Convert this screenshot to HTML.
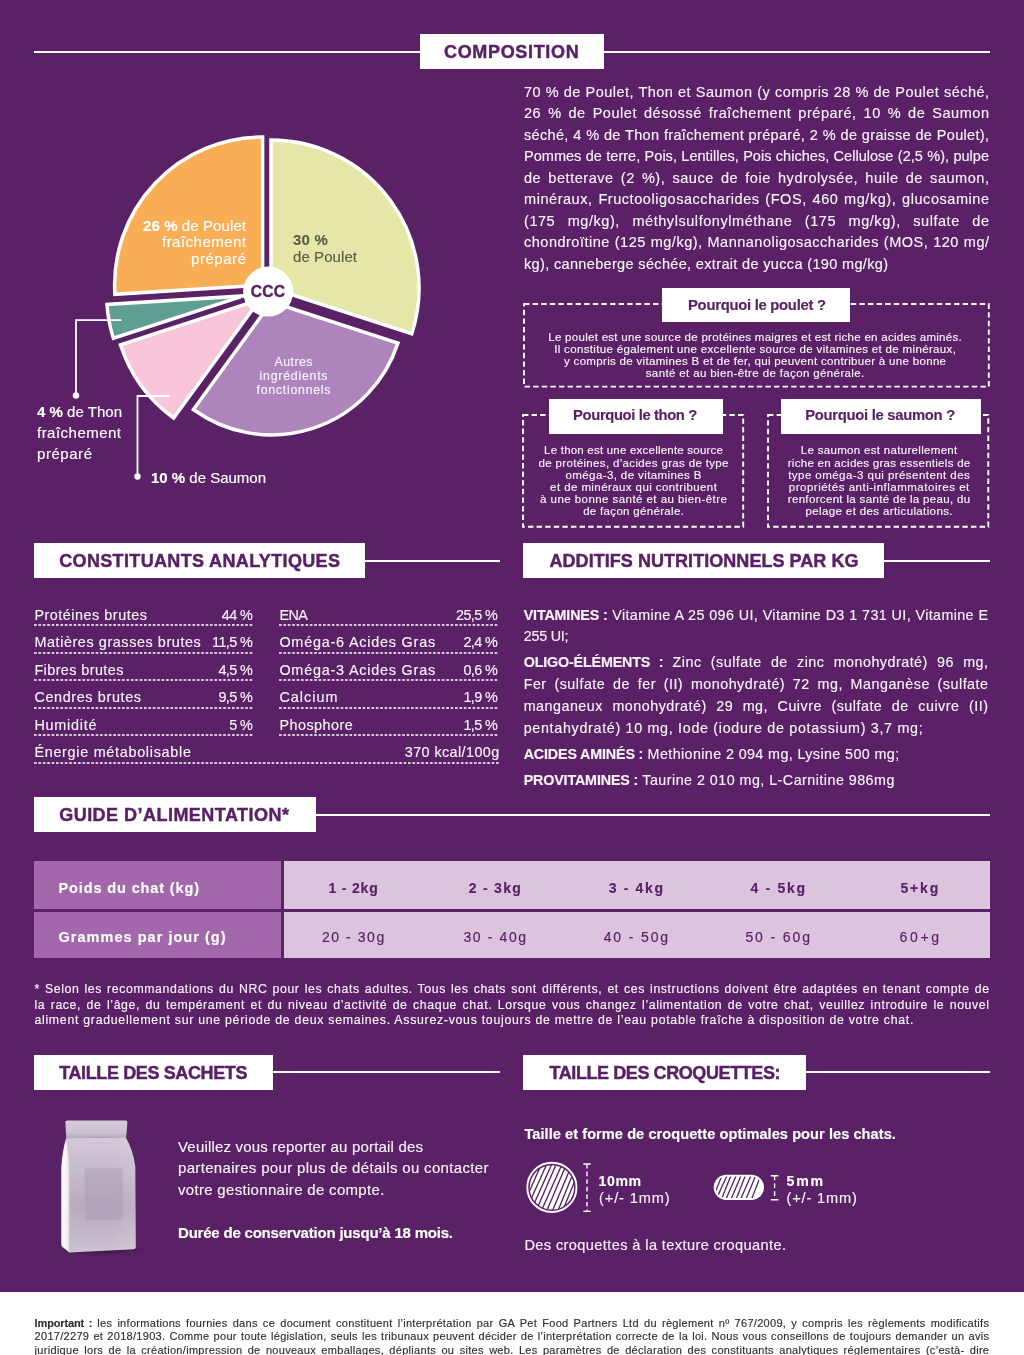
<!DOCTYPE html>
<html lang="fr"><head><meta charset="utf-8"><title>Fiche produit</title>
<style>
html,body{margin:0;padding:0;}
body{width:1024px;height:1355px;position:relative;overflow:hidden;background:#fff;font-family:"Liberation Sans",sans-serif;}
.t{position:absolute;white-space:nowrap;line-height:20px;height:20px;-webkit-text-stroke:0.15px currentColor;}
.j{text-align:justify;text-align-last:justify;}
b{font-weight:700;}
.k{letter-spacing:-0.15px;}
</style></head><body>
<div style="position:absolute;left:0;top:0;width:1024px;height:1291.5px;background:#5a2166"></div>
<div style="position:absolute;left:34px;top:50.5px;width:386px;height:2px;background:#fff;"></div>
<div style="position:absolute;left:604px;top:50.5px;width:385.5px;height:2px;background:#fff;"></div>
<div style="position:absolute;left:420px;top:34px;width:184px;height:35px;background:#fff;"></div>
<div style="position:absolute;left:365px;top:559.5px;width:135px;height:2px;background:#fff;"></div>
<div style="position:absolute;left:34px;top:543px;width:331px;height:35px;background:#fff;"></div>
<div style="position:absolute;left:883.5px;top:559.5px;width:106.0px;height:2px;background:#fff;"></div>
<div style="position:absolute;left:523px;top:543px;width:360.5px;height:35px;background:#fff;"></div>
<div style="position:absolute;left:316px;top:813.6500000000001px;width:673.5px;height:2px;background:#fff;"></div>
<div style="position:absolute;left:34px;top:797.2px;width:282px;height:34.89999999999998px;background:#fff;"></div>
<div style="position:absolute;left:272.5px;top:1071.4px;width:227.5px;height:2px;background:#fff;"></div>
<div style="position:absolute;left:34px;top:1054.9px;width:238.5px;height:35.0px;background:#fff;"></div>
<div style="position:absolute;left:805.5px;top:1071.4px;width:184.0px;height:2px;background:#fff;"></div>
<div style="position:absolute;left:523px;top:1054.9px;width:282.5px;height:35.0px;background:#fff;"></div>
<svg style="position:absolute;left:0;top:100px" width="512" height="420" viewBox="0 100 512 420"><path d="M271.0,288.0 L271.0,140.0 A148,148 0 0 1 411.8,333.7 Z" fill="#e4e7a8" stroke="#fff" stroke-width="3.5" stroke-linejoin="miter" stroke-miterlimit="10"/><path d="M271.5,302.0 L397.9,343.1 A132.9,132.9 0 0 1 193.4,409.5 Z" fill="#ae84bd" stroke="#fff" stroke-width="3.5" stroke-linejoin="miter" stroke-miterlimit="10"/><path d="M259.8,299.5 L173.6,418.1 A146.6,146.6 0 0 1 120.4,344.8 Z" fill="#f8c5da" stroke="#fff" stroke-width="3.5" stroke-linejoin="miter" stroke-miterlimit="10"/><path d="M243.5,295.9 L113.4,338.2 A136.8,136.8 0 0 1 107.0,304.5 Z" fill="#5f9e92" stroke="#fff" stroke-width="3.5" stroke-linejoin="miter" stroke-miterlimit="10"/><path d="M262.6,285.0 L114.9,294.3 A148,148 0 0 1 262.6,137.0 Z" fill="#f9ae56" stroke="#fff" stroke-width="3.5" stroke-linejoin="miter" stroke-miterlimit="10"/><circle cx="268.1" cy="291.6" r="25" fill="#fff"/><path d="M121.5,320.2 H76 V395" fill="none" stroke="#fff" stroke-width="1.8"/><circle cx="76" cy="395.5" r="3.2" fill="#fff"/><path d="M170,396 H137.5 V476" fill="none" stroke="#fff" stroke-width="1.8"/><circle cx="137.5" cy="476.5" r="3.2" fill="#fff"/></svg>
<svg style="position:absolute;left:522px;top:302.2px" width="468.79999999999995" height="86.60000000000002"><rect x="2" y="2" width="464.79999999999995" height="82.60000000000002" fill="none" stroke="#fff" stroke-width="1.9" stroke-dasharray="5.4 3.2"/></svg>
<div style="position:absolute;left:662px;top:287.5px;width:188px;height:34.5px;background:#fff;"></div>
<svg style="position:absolute;left:521.4px;top:412.6px" width="224.20000000000005" height="115.79999999999995"><rect x="2" y="2" width="220.20000000000005" height="111.79999999999995" fill="none" stroke="#fff" stroke-width="1.9" stroke-dasharray="5.4 3.2"/></svg>
<div style="position:absolute;left:548.5px;top:398.7px;width:174.4px;height:35.1px;background:#fff;"></div>
<svg style="position:absolute;left:766.3px;top:412.6px" width="224.30000000000007" height="115.79999999999995"><rect x="2" y="2" width="220.30000000000007" height="111.79999999999995" fill="none" stroke="#fff" stroke-width="1.9" stroke-dasharray="5.4 3.2"/></svg>
<div style="position:absolute;left:780.6px;top:398.7px;width:200.9px;height:35.1px;background:#fff;"></div>
<svg style="position:absolute;left:34px;top:624.4px" width="219.5" height="2"><line x1="0" y1="1" x2="219.5" y2="1" stroke="#fff" stroke-width="1.6" stroke-dasharray="2.7 1.7"/></svg>
<svg style="position:absolute;left:279px;top:624.4px" width="220.3" height="2"><line x1="0" y1="1" x2="220.3" y2="1" stroke="#fff" stroke-width="1.6" stroke-dasharray="2.7 1.7"/></svg>
<svg style="position:absolute;left:34px;top:651.5px" width="219.5" height="2"><line x1="0" y1="1" x2="219.5" y2="1" stroke="#fff" stroke-width="1.6" stroke-dasharray="2.7 1.7"/></svg>
<svg style="position:absolute;left:279px;top:651.5px" width="220.3" height="2"><line x1="0" y1="1" x2="220.3" y2="1" stroke="#fff" stroke-width="1.6" stroke-dasharray="2.7 1.7"/></svg>
<svg style="position:absolute;left:34px;top:679.0px" width="219.5" height="2"><line x1="0" y1="1" x2="219.5" y2="1" stroke="#fff" stroke-width="1.6" stroke-dasharray="2.7 1.7"/></svg>
<svg style="position:absolute;left:279px;top:679.0px" width="220.3" height="2"><line x1="0" y1="1" x2="220.3" y2="1" stroke="#fff" stroke-width="1.6" stroke-dasharray="2.7 1.7"/></svg>
<svg style="position:absolute;left:34px;top:706.5px" width="219.5" height="2"><line x1="0" y1="1" x2="219.5" y2="1" stroke="#fff" stroke-width="1.6" stroke-dasharray="2.7 1.7"/></svg>
<svg style="position:absolute;left:279px;top:706.5px" width="220.3" height="2"><line x1="0" y1="1" x2="220.3" y2="1" stroke="#fff" stroke-width="1.6" stroke-dasharray="2.7 1.7"/></svg>
<svg style="position:absolute;left:34px;top:733.9px" width="219.5" height="2"><line x1="0" y1="1" x2="219.5" y2="1" stroke="#fff" stroke-width="1.6" stroke-dasharray="2.7 1.7"/></svg>
<svg style="position:absolute;left:279px;top:733.9px" width="220.3" height="2"><line x1="0" y1="1" x2="220.3" y2="1" stroke="#fff" stroke-width="1.6" stroke-dasharray="2.7 1.7"/></svg>
<svg style="position:absolute;left:34px;top:761.7px" width="465.3" height="2"><line x1="0" y1="1" x2="465.3" y2="1" stroke="#fff" stroke-width="1.6" stroke-dasharray="2.7 1.7"/></svg>
<div style="position:absolute;left:34px;top:861.4px;width:246.9px;height:47.3px;background:#a268ab;"></div>
<div style="position:absolute;left:34px;top:911.9px;width:246.9px;height:46.5px;background:#a268ab;"></div>
<div style="position:absolute;left:284px;top:861.4px;width:705.6px;height:47.3px;background:#dcc3de;"></div>
<div style="position:absolute;left:284px;top:911.9px;width:705.6px;height:46.5px;background:#dcc3de;"></div>
<svg style="position:absolute;left:50px;top:1110px" width="100" height="155" viewBox="50 1110 100 155">
<defs>
<linearGradient id="bgF" x1="0" x2="0" y1="0" y2="1"><stop offset="0" stop-color="#d3c9d7"/><stop offset="0.25" stop-color="#c8bdcd"/><stop offset="0.6" stop-color="#b8abbe"/><stop offset="0.85" stop-color="#c3b8c8"/><stop offset="1" stop-color="#cdc3d2"/></linearGradient>
<linearGradient id="bgS" x1="0" x2="1" y1="0" y2="0"><stop offset="0" stop-color="#ffffff"/><stop offset="0.7" stop-color="#f3eff5"/><stop offset="1" stop-color="#dcd3e0"/></linearGradient>
<linearGradient id="bgT" x1="0" x2="0" y1="0" y2="1"><stop offset="0" stop-color="#d6cdda"/><stop offset="0.7" stop-color="#cbc0cf"/><stop offset="1" stop-color="#b3a6b9"/></linearGradient>
<linearGradient id="bgR" x1="0" x2="1" y1="0" y2="0"><stop offset="0" stop-color="#fff" stop-opacity="0"/><stop offset="1" stop-color="#fff" stop-opacity="0.10"/></linearGradient>
<radialGradient id="bgSh" cx="0.5" cy="0.5" r="0.5"><stop offset="0" stop-color="#33103c" stop-opacity="0.75"/><stop offset="1" stop-color="#33103c" stop-opacity="0"/></radialGradient>
</defs>
<ellipse cx="101" cy="1250" rx="46" ry="6.5" fill="url(#bgSh)"/>
<path d="M66.2,1138 L125.6,1137 Q133,1150 135.3,1166 L135.8,1247 Q135.8,1249 133.5,1249.2 L70,1252.6 Q68.5,1252.6 68,1251 L68,1166 Z" fill="url(#bgF)"/>
<path d="M112,1139 L125.6,1137 Q133,1150 135.3,1166 L135.8,1247 Q135.8,1249 133.5,1249.2 L112,1250.3 Z" fill="url(#bgR)"/>
<path d="M66.2,1138 L69.5,1166 L69.5,1252.4 L62.5,1247 Q61.3,1246 61.3,1244 L61.3,1167 Q62.5,1150 66.2,1138 Z" fill="url(#bgS)"/>
<path d="M65.4,1122 Q65.4,1120.4 67,1120.4 L125.8,1120.4 Q127.4,1120.4 127.4,1122 L126.2,1137.4 L66.2,1138.2 Z" fill="url(#bgT)"/>
<rect x="84.9" y="1168.2" width="37.8" height="52" fill="#a596ad" opacity="0.38"/>
</svg>
<svg style="position:absolute;left:520px;top:1155px" width="270" height="65" viewBox="520 1155 270 65">
<defs><clipPath id="cc1"><circle cx="551.9" cy="1187.4" r="22.6"/></clipPath><clipPath id="cc2"><rect x="715.6" y="1176.6" width="46.5" height="21.5" rx="10.75"/></clipPath></defs>
<circle cx="551.9" cy="1187.4" r="24.6" fill="none" stroke="#fff" stroke-width="1.9"/>
<circle cx="551.9" cy="1187.4" r="22.2" fill="#fff"/><path d="M504.7,1214.4 L528.1,1160.4 M509.9,1214.4 L532.6,1160.4 M514.6,1214.4 L537.5,1160.4 M519.1,1214.4 L543.1,1160.4 M524.2,1214.4 L548.4,1160.4 M529.4,1214.4 L553.4,1160.4 M534.6,1214.4 L557.8,1160.4 M539.8,1214.4 L563.7,1160.4 M545.3,1214.4 L568.0,1160.4 M550.9,1214.4 L573.7,1160.4 M556.5,1214.4 L578.3,1160.4 M561.1,1214.4 L583.2,1160.4 M565.2,1214.4 L589.1,1160.4 M570.2,1214.4 L593.7,1160.4 " stroke="#5a2166" stroke-width="1.35" fill="none" clip-path="url(#cc1)"/>
<rect x="713.7" y="1174.7" width="50.3" height="25.3" rx="12.65" fill="#fff"/>
<path d="M701.4,1200.9 L713.4,1173.9 M706.9,1200.9 L717.8,1173.9 M711.6,1200.9 L722.7,1173.9 M715.5,1200.9 L727.7,1173.9 M720.8,1200.9 L731.6,1173.9 M725.2,1200.9 L736.9,1173.9 M730.4,1200.9 L741.7,1173.9 M735.5,1200.9 L746.0,1173.9 M739.9,1200.9 L751.7,1173.9 M745.2,1200.9 L756.4,1173.9 M750.8,1200.9 L761.4,1173.9 " stroke="#5a2166" stroke-width="1.3" fill="none" clip-path="url(#cc2)"/>
<g stroke="#fff" stroke-width="1.4" fill="none">
<path d="M583.3,1164 H590.7 M583.3,1211.4 H590.7"/><path d="M587,1164 V1211.4" stroke-dasharray="4.6 3"/>
<path d="M770.8,1175.7 H778.4 M770.8,1199.7 H778.4"/><path d="M774.6,1175.7 V1199.7" stroke-dasharray="4.6 3.2"/>
</g></svg>
<div class="t" style="top:42.26px;font-size:18px;color:#5a2166;font-weight:700;letter-spacing:0.669px;left:444px;-webkit-text-stroke:0.45px #5a2166;">COMPOSITION</div>
<div class="t" style="top:550.96px;font-size:18px;color:#5a2166;font-weight:700;letter-spacing:0.352px;left:59.2px;-webkit-text-stroke:0.45px #5a2166;">CONSTITUANTS ANALYTIQUES</div>
<div class="t" style="top:550.96px;font-size:18px;color:#5a2166;font-weight:700;letter-spacing:0.047px;left:549.5px;-webkit-text-stroke:0.45px #5a2166;">ADDITIFS NUTRITIONNELS PAR KG</div>
<div class="t" style="top:805.06px;font-size:18px;color:#5a2166;font-weight:700;letter-spacing:0.474px;left:59.2px;-webkit-text-stroke:0.45px #5a2166;">GUIDE D’ALIMENTATION*</div>
<div class="t" style="top:1062.66px;font-size:18px;color:#5a2166;font-weight:700;letter-spacing:-0.375px;left:59.2px;-webkit-text-stroke:0.45px #5a2166;">TAILLE DES SACHETS</div>
<div class="t" style="top:1062.66px;font-size:18px;color:#5a2166;font-weight:700;letter-spacing:-0.414px;left:549.5px;-webkit-text-stroke:0.45px #5a2166;">TAILLE DES CROQUETTES:</div>
<div class="t j" style="top:81.58px;font-size:14.5px;color:#f8f4f9;letter-spacing:0.470px;left:524px;width:465.47px;">70 % de Poulet, Thon et Saumon (y compris 28 % de Poulet séché,</div>
<div class="t j" style="top:103.08px;font-size:14.5px;color:#f8f4f9;letter-spacing:0.550px;left:524px;width:465.55px;">26 % de Poulet désossé fraîchement préparé, 10 % de Saumon</div>
<div class="t j" style="top:124.58px;font-size:14.5px;color:#f8f4f9;letter-spacing:0.322px;left:524px;width:465.32px;">séché, 4 % de Thon fraîchement préparé, 2 % de graisse de Poulet),</div>
<div class="t j" style="top:146.08px;font-size:14.5px;color:#f8f4f9;letter-spacing:0.028px;left:524px;width:465.03px;">Pommes de terre, Pois, Lentilles, Pois chiches, Cellulose (2,5 %), pulpe</div>
<div class="t j" style="top:167.58px;font-size:14.5px;color:#f8f4f9;letter-spacing:0.550px;left:524px;width:465.55px;">de betterave (2 %), sauce de foie hydrolysée, huile de saumon,</div>
<div class="t j" style="top:189.08px;font-size:14.5px;color:#f8f4f9;letter-spacing:0.550px;left:524px;width:465.55px;">minéraux, Fructooligosaccharides (FOS, 460 mg/kg), glucosamine</div>
<div class="t j" style="top:210.58px;font-size:14.5px;color:#f8f4f9;letter-spacing:0.550px;left:524px;width:465.55px;">(175 mg/kg), méthylsulfonylméthane (175 mg/kg), sulfate de</div>
<div class="t j" style="top:232.08px;font-size:14.5px;color:#f8f4f9;letter-spacing:0.501px;left:524px;width:465.50px;">chondroïtine (125 mg/kg), Mannanoligosaccharides (MOS, 120 mg/</div>
<div class="t" style="top:253.58px;font-size:14.5px;color:#f8f4f9;letter-spacing:0.342px;left:524px;">kg), canneberge séchée, extrait de yucca (190 mg/kg)</div>
<div class="t" style="top:281.89px;font-size:15.6px;color:#5a2166;font-weight:700;letter-spacing:0.207px;left:-32.00px;width:600px;text-align:center;-webkit-text-stroke:0.4px #5a2166;">CCC</div>
<div class="t" style="top:215.80px;font-size:15px;color:#fff;letter-spacing:0.095px;right:777.90px;"><b>26 %</b> de Poulet</div>
<div class="t" style="top:232.30px;font-size:15px;color:#fff;letter-spacing:0.479px;right:777.52px;">fraîchement</div>
<div class="t" style="top:248.80px;font-size:15px;color:#fff;letter-spacing:0.548px;right:777.45px;">préparé</div>
<div class="t" style="top:229.80px;font-size:15px;color:#5b5d45;letter-spacing:0.208px;left:293px;"><b>30 %</b></div>
<div class="t" style="top:246.80px;font-size:15px;color:#5b5d45;letter-spacing:0.076px;left:293px;">de Poulet</div>
<div class="t" style="top:352.24px;font-size:12.3px;color:#faf5fb;letter-spacing:0.490px;left:-6.26px;width:600px;text-align:center;">Autres</div>
<div class="t" style="top:366.24px;font-size:12.3px;color:#faf5fb;letter-spacing:0.783px;left:-6.11px;width:600px;text-align:center;">ingrédients</div>
<div class="t" style="top:380.24px;font-size:12.3px;color:#faf5fb;letter-spacing:0.760px;left:-6.12px;width:600px;text-align:center;">fonctionnels</div>
<div class="t" style="top:402.30px;font-size:15px;color:#fff;letter-spacing:0.020px;left:37px;"><b>4 %</b> de Thon</div>
<div class="t" style="top:423.30px;font-size:15px;color:#fff;letter-spacing:0.479px;left:37px;">fraîchement</div>
<div class="t" style="top:444.30px;font-size:15px;color:#fff;letter-spacing:0.548px;left:37px;">préparé</div>
<div class="t" style="top:467.80px;font-size:15px;color:#fff;letter-spacing:-0.007px;left:151px;"><b>10 %</b> de Saumon</div>
<div class="t" style="top:294.87px;font-size:14.8px;color:#5a2166;font-weight:700;letter-spacing:-0.265px;left:688px;">Pourquoi le poulet ?</div>
<div class="t" style="top:326.62px;font-size:11.5px;color:#f8f4f9;letter-spacing:0.288px;left:455.14px;width:600px;text-align:center;">Le poulet est une source de protéines maigres et est riche en acides aminés.</div>
<div class="t" style="top:338.62px;font-size:11.5px;color:#f8f4f9;letter-spacing:0.341px;left:455.17px;width:600px;text-align:center;">Il constitue également une excellente source de vitamines et de minéraux,</div>
<div class="t" style="top:350.62px;font-size:11.5px;color:#f8f4f9;letter-spacing:0.320px;left:455.16px;width:600px;text-align:center;">y compris de vitamines B et de fer, qui peuvent contribuer à une bonne</div>
<div class="t" style="top:362.62px;font-size:11.5px;color:#f8f4f9;letter-spacing:0.373px;left:455.19px;width:600px;text-align:center;">santé et au bien-être de façon générale.</div>
<div class="t" style="top:405.37px;font-size:14.8px;color:#5a2166;font-weight:700;letter-spacing:-0.383px;left:573.1px;">Pourquoi le thon ?</div>
<div class="t" style="top:440.42px;font-size:11.5px;color:#f8f4f9;letter-spacing:0.213px;left:333.61px;width:600px;text-align:center;">Le thon est une excellente source</div>
<div class="t" style="top:452.54px;font-size:11.5px;color:#f8f4f9;letter-spacing:0.339px;left:333.67px;width:600px;text-align:center;">de protéines, d’acides gras de type</div>
<div class="t" style="top:464.66px;font-size:11.5px;color:#f8f4f9;letter-spacing:0.395px;left:333.70px;width:600px;text-align:center;">oméga-3, de vitamines B</div>
<div class="t" style="top:476.78px;font-size:11.5px;color:#f8f4f9;letter-spacing:0.416px;left:333.71px;width:600px;text-align:center;">et de minéraux qui contribuent</div>
<div class="t" style="top:488.90px;font-size:11.5px;color:#f8f4f9;letter-spacing:0.442px;left:333.72px;width:600px;text-align:center;">à une bonne santé et au bien-être</div>
<div class="t" style="top:501.02px;font-size:11.5px;color:#f8f4f9;letter-spacing:0.319px;left:333.66px;width:600px;text-align:center;">de façon générale.</div>
<div class="t" style="top:405.37px;font-size:14.8px;color:#5a2166;font-weight:700;letter-spacing:-0.283px;left:805.2px;">Pourquoi le saumon ?</div>
<div class="t" style="top:440.42px;font-size:11.5px;color:#f8f4f9;letter-spacing:0.318px;left:579.16px;width:600px;text-align:center;">Le saumon est naturellement</div>
<div class="t" style="top:452.54px;font-size:11.5px;color:#f8f4f9;letter-spacing:0.280px;left:579.14px;width:600px;text-align:center;">riche en acides gras essentiels de</div>
<div class="t" style="top:464.66px;font-size:11.5px;color:#f8f4f9;letter-spacing:0.449px;left:579.22px;width:600px;text-align:center;">type oméga-3 qui présentent des</div>
<div class="t" style="top:476.78px;font-size:11.5px;color:#f8f4f9;letter-spacing:0.507px;left:579.25px;width:600px;text-align:center;">propriétés anti-inflammatoires et</div>
<div class="t" style="top:488.90px;font-size:11.5px;color:#f8f4f9;letter-spacing:0.338px;left:579.17px;width:600px;text-align:center;">renforcent la santé de la peau, du</div>
<div class="t" style="top:501.02px;font-size:11.5px;color:#f8f4f9;letter-spacing:0.377px;left:579.19px;width:600px;text-align:center;">pelage et des articulations.</div>
<div class="t" style="top:605.11px;font-size:14.4px;color:#f8f4f9;letter-spacing:0.514px;left:34.4px;">Protéines brutes</div>
<div class="t" style="top:605.11px;font-size:14.4px;color:#f8f4f9;letter-spacing:-0.600px;right:771.80px;">44 %</div>
<div class="t" style="top:605.11px;font-size:14.4px;color:#f8f4f9;letter-spacing:-0.600px;left:279.4px;">ENA</div>
<div class="t" style="top:605.11px;font-size:14.4px;color:#f8f4f9;letter-spacing:-0.600px;right:526.80px;">25,5 %</div>
<div class="t" style="top:632.21px;font-size:14.4px;color:#f8f4f9;letter-spacing:0.583px;left:34.4px;">Matières grasses brutes</div>
<div class="t" style="top:632.21px;font-size:14.4px;color:#f8f4f9;letter-spacing:-0.600px;right:771.80px;">11,5 %</div>
<div class="t" style="top:632.21px;font-size:14.4px;color:#f8f4f9;letter-spacing:0.790px;left:279.4px;">Oméga-6 Acides Gras</div>
<div class="t" style="top:632.21px;font-size:14.4px;color:#f8f4f9;letter-spacing:-0.600px;right:526.80px;">2,4 %</div>
<div class="t" style="top:659.71px;font-size:14.4px;color:#f8f4f9;letter-spacing:0.417px;left:34.4px;">Fibres brutes</div>
<div class="t" style="top:659.71px;font-size:14.4px;color:#f8f4f9;letter-spacing:-0.600px;right:771.80px;">4,5 %</div>
<div class="t" style="top:659.71px;font-size:14.4px;color:#f8f4f9;letter-spacing:0.790px;left:279.4px;">Oméga-3 Acides Gras</div>
<div class="t" style="top:659.71px;font-size:14.4px;color:#f8f4f9;letter-spacing:-0.600px;right:526.80px;">0,6 %</div>
<div class="t" style="top:687.21px;font-size:14.4px;color:#f8f4f9;letter-spacing:0.631px;left:34.4px;">Cendres brutes</div>
<div class="t" style="top:687.21px;font-size:14.4px;color:#f8f4f9;letter-spacing:-0.600px;right:771.80px;">9,5 %</div>
<div class="t" style="top:687.21px;font-size:14.4px;color:#f8f4f9;letter-spacing:1.020px;left:279.4px;">Calcium</div>
<div class="t" style="top:687.21px;font-size:14.4px;color:#f8f4f9;letter-spacing:-0.600px;right:526.80px;">1,9 %</div>
<div class="t" style="top:714.61px;font-size:14.4px;color:#f8f4f9;letter-spacing:0.759px;left:34.4px;">Humidité</div>
<div class="t" style="top:714.61px;font-size:14.4px;color:#f8f4f9;letter-spacing:-0.600px;right:771.80px;">5 %</div>
<div class="t" style="top:714.61px;font-size:14.4px;color:#f8f4f9;letter-spacing:0.460px;left:279.4px;">Phosphore</div>
<div class="t" style="top:714.61px;font-size:14.4px;color:#f8f4f9;letter-spacing:-0.600px;right:526.80px;">1,5 %</div>
<div class="t" style="top:742.21px;font-size:14.4px;color:#f8f4f9;letter-spacing:0.705px;left:34.4px;">Énergie métabolisable</div>
<div class="t" style="top:742.21px;font-size:14.4px;color:#f8f4f9;letter-spacing:0.398px;right:524.40px;">370 kcal/100g</div>
<div class="t j" style="top:604.65px;font-size:14.3px;color:#f8f4f9;letter-spacing:0.382px;left:523.7px;width:464.68px;"><b class="k">VITAMINES :</b> Vitamine A 25 096 UI, Vitamine D3 1 731 UI, Vitamine E</div>
<div class="t" style="top:626.45px;font-size:14.3px;color:#f8f4f9;letter-spacing:-0.217px;left:523.7px;">255 UI;</div>
<div class="t j" style="top:652.35px;font-size:14.3px;color:#f8f4f9;letter-spacing:0.500px;left:523.7px;width:464.80px;"><b class="k">OLIGO-ÉLÉMENTS :</b> Zinc (sulfate de zinc monohydraté) 96 mg,</div>
<div class="t j" style="top:674.35px;font-size:14.3px;color:#f8f4f9;letter-spacing:0.500px;left:523.7px;width:464.80px;">Fer (sulfate de fer (II) monohydraté) 72 mg, Manganèse (sulfate</div>
<div class="t j" style="top:696.35px;font-size:14.3px;color:#f8f4f9;letter-spacing:0.500px;left:523.7px;width:464.80px;">manganeux monohydraté) 29 mg, Cuivre (sulfate de cuivre (II)</div>
<div class="t" style="top:717.65px;font-size:14.3px;color:#f8f4f9;letter-spacing:0.691px;left:523.7px;">pentahydraté) 10 mg, Iode (iodure de potassium) 3,7 mg;</div>
<div class="t" style="top:743.65px;font-size:14.3px;color:#f8f4f9;letter-spacing:0.400px;left:523.7px;"><b class="k">ACIDES AMINÉS :</b> Methionine 2 094 mg, Lysine 500 mg;</div>
<div class="t" style="top:769.85px;font-size:14.3px;color:#f8f4f9;letter-spacing:0.472px;left:523.7px;"><b class="k">PROVITAMINES :</b> Taurine 2 010 mg, L-Carnitine 986mg</div>
<div class="t" style="top:878.18px;font-size:14.5px;color:#fff;font-weight:700;letter-spacing:0.877px;left:58.5px;">Poids du chat (kg)</div>
<div class="t" style="top:927.18px;font-size:14.5px;color:#fff;font-weight:700;letter-spacing:1.033px;left:58.5px;">Grammes par jour (g)</div>
<div class="t" style="top:877.75px;font-size:14px;color:#5a2166;font-weight:700;letter-spacing:0.806px;left:53.50px;width:600px;text-align:center;">1 - 2kg</div>
<div class="t" style="top:877.75px;font-size:14px;color:#5a2166;font-weight:700;letter-spacing:1.274px;left:195.44px;width:600px;text-align:center;">2 - 3kg</div>
<div class="t" style="top:877.75px;font-size:14px;color:#5a2166;font-weight:700;letter-spacing:1.688px;left:336.74px;width:600px;text-align:center;">3 - 4kg</div>
<div class="t" style="top:877.75px;font-size:14px;color:#5a2166;font-weight:700;letter-spacing:1.707px;left:478.55px;width:600px;text-align:center;">4 - 5kg</div>
<div class="t" style="top:877.75px;font-size:14px;color:#5a2166;font-weight:700;letter-spacing:1.832px;left:620.22px;width:600px;text-align:center;">5+kg</div>
<div class="t" style="top:926.75px;font-size:14px;color:#5a2166;letter-spacing:1.545px;left:53.87px;width:600px;text-align:center;">20 - 30g</div>
<div class="t" style="top:926.75px;font-size:14px;color:#5a2166;letter-spacing:1.603px;left:195.60px;width:600px;text-align:center;">30 - 40g</div>
<div class="t" style="top:926.75px;font-size:14px;color:#5a2166;letter-spacing:1.875px;left:336.84px;width:600px;text-align:center;">40 - 50g</div>
<div class="t" style="top:926.75px;font-size:14px;color:#5a2166;letter-spacing:1.875px;left:478.64px;width:600px;text-align:center;">50 - 60g</div>
<div class="t" style="top:926.75px;font-size:14px;color:#5a2166;letter-spacing:2.654px;left:620.63px;width:600px;text-align:center;">60+g</div>
<div class="t j" style="top:979.14px;font-size:12.3px;color:#f8f4f9;letter-spacing:0.600px;left:34.4px;width:955.20px;">* Selon les recommandations du NRC pour les chats adultes. Tous les chats sont différents, et ces instructions doivent être adaptées en tenant compte de</div>
<div class="t j" style="top:994.84px;font-size:12.3px;color:#f8f4f9;letter-spacing:0.600px;left:34.4px;width:955.20px;">la race, de l’âge, du tempérament et du niveau d’activité de chaque chat. Lorsque vous changez l’alimentation de votre chat, veuillez introduire le nouvel</div>
<div class="t" style="top:1010.44px;font-size:12.3px;color:#f8f4f9;letter-spacing:0.727px;left:34.4px;">aliment graduellement sur une période de deux semaines. Assurez-vous toujours de mettre de l’eau potable fraîche à disposition de votre chat.</div>
<div class="t" style="top:1136.50px;font-size:15px;color:#f8f4f9;letter-spacing:0.182px;left:178px;">Veuillez vous reporter au portail des</div>
<div class="t" style="top:1158.10px;font-size:15px;color:#f8f4f9;letter-spacing:0.327px;left:178px;">partenaires pour plus de détails ou contacter</div>
<div class="t" style="top:1179.70px;font-size:15px;color:#f8f4f9;letter-spacing:0.310px;left:178px;">votre gestionnaire de compte.</div>
<div class="t" style="top:1222.60px;font-size:15px;color:#fff;font-weight:700;letter-spacing:-0.205px;left:178px;">Durée de conservation jusqu’à 18 mois.</div>
<div class="t" style="top:1123.94px;font-size:14.6px;color:#fff;font-weight:700;letter-spacing:0.052px;left:524.4px;">Taille et forme de croquette optimales pour les chats.</div>
<div class="t" style="top:1171.11px;font-size:14.1px;color:#fff;font-weight:700;letter-spacing:0.553px;left:598.6px;">10mm</div>
<div class="t" style="top:1187.54px;font-size:14.6px;color:#f8f4f9;letter-spacing:0.881px;left:599px;">(+/- 1mm)</div>
<div class="t" style="top:1171.11px;font-size:14.1px;color:#fff;font-weight:700;letter-spacing:1.797px;left:786.5px;">5mm</div>
<div class="t" style="top:1187.54px;font-size:14.6px;color:#f8f4f9;letter-spacing:0.832px;left:786.5px;">(+/- 1mm)</div>
<div class="t" style="top:1234.84px;font-size:14.6px;color:#f8f4f9;letter-spacing:0.383px;left:524.4px;">Des croquettes à la texture croquante.</div>
<div class="t j" style="top:1312.69px;font-size:11px;color:#2e2e2e;letter-spacing:0.300px;left:34.6px;width:954.70px;"><b class="k">Important :</b> les informations fournies dans ce document constituent l’interprétation par GA Pet Food Partners Ltd du règlement nº 767/2009, y compris les règlements modificatifs</div>
<div class="t j" style="top:1326.29px;font-size:11px;color:#2e2e2e;letter-spacing:0.300px;left:34.6px;width:954.70px;">2017/2279 et 2018/1903. Comme pour toute législation, seuls les tribunaux peuvent décider de l’interprétation correcte de la loi. Nous vous conseillons de toujours demander un avis</div>
<div class="t j" style="top:1339.89px;font-size:11px;color:#2e2e2e;letter-spacing:0.300px;left:34.6px;width:954.70px;">juridique lors de la création/impression de nouveaux emballages, dépliants ou sites web. Les paramètres de déclaration des constituants analytiques réglementaires (c’està- dire</div>
</body></html>
